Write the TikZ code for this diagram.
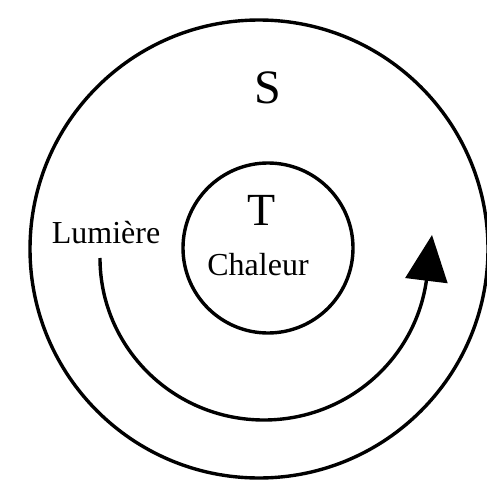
\documentclass[tikz,border=0pt]{standalone}
\usepackage{fontspec}
\setmainfont{Liberation Serif}
\usetikzlibrary{arrows.meta}
\begin{document}
\begin{tikzpicture}[x=1pt,y=-1pt,
  ring/.style={draw=black,line width=3.4pt,fill=none},
  lbl/.style={inner sep=0pt,anchor=base},
  flow/.style={line width=3.4pt,-{Triangle[length=46pt,width=42pt]}}]
\useasboundingbox (0,0) rectangle (487,487);
\node[ring,circle,minimum size=458pt,inner sep=0pt] (S) at (259,249) {};
\node[ring,circle,minimum size=170pt,inner sep=0pt] (T) at (268,248) {};
\node[lbl,font=\fontsize{48}{50}\selectfont] (Slab) at (268,103) {S};
\node[lbl,font=\fontsize{46}{48}\selectfont] (Tlab) at (262,225) {T};
\node[lbl,font=\fontsize{32}{34}\selectfont] (chal) at (258,275) {Chaleur};
\node[lbl,font=\fontsize{32}{34}\selectfont] (lum) at (106,243) {Lumière};
\coordinate (start) at (100,258);
\coordinate (tip) at (432,235);
\draw[flow] (start) arc[start angle=180,end angle=352,x radius=164,y radius=-162] -- (tip);
\end{tikzpicture}
\end{document}
